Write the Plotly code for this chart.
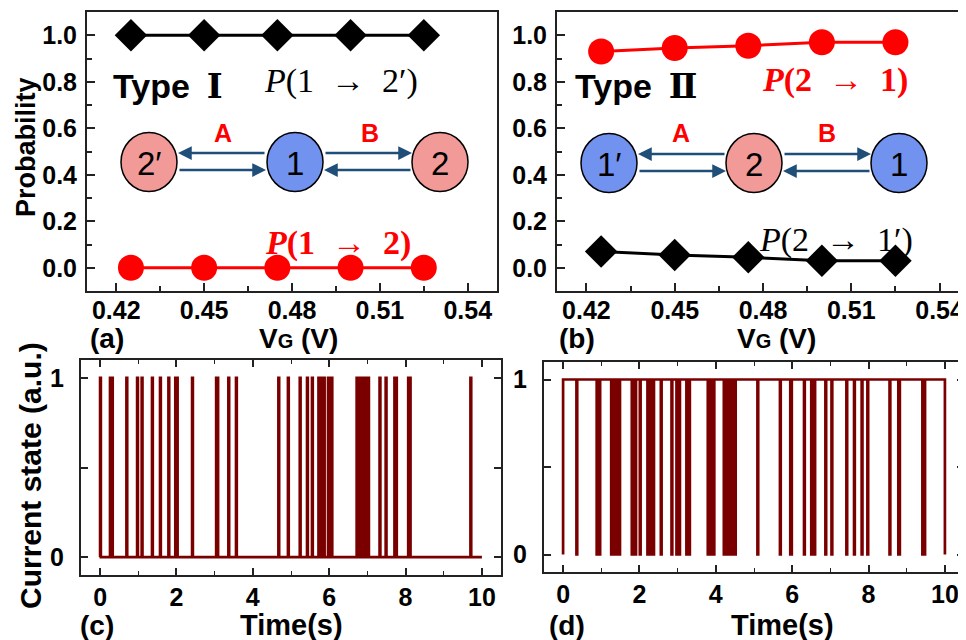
import plotly.graph_objects as go

# ---------------- data ----------------
vg = [0.425, 0.45, 0.475, 0.5, 0.525]
p_1_to_2prime = [1.0, 1.0, 1.0, 1.0, 1.0]
p_1_to_2 = [0.0, 0.0, 0.0, 0.0, 0.0]
p_2_to_1 = [0.93, 0.945, 0.955, 0.97, 0.97]
p_2_to_1prime = [0.07, 0.055, 0.045, 0.03, 0.03]

# panel (c): pulses up to state 1 (start, end) in seconds
c_on = [0.00, 0.26, 0.31, 0.69, 0.97, 1.09, 1.36, 1.57, 1.79, 1.97, 2.01, 2.41, 3.04, 3.07,
        3.36, 3.56, 4.67, 4.92, 5.23, 5.42, 5.55, 5.72, 5.79, 5.84, 5.97, 6.04,
        6.72, 6.77, 6.82, 6.87, 6.92, 6.97, 7.01, 7.32, 7.48, 7.71, 7.75, 8.07, 8.11, 9.70]
c_off = [0.02, 0.28, 0.33, 0.71, 0.99, 1.11, 1.38, 1.59, 1.81, 1.99, 2.03, 2.43, 3.06, 3.09,
         3.38, 3.58, 4.69, 4.94, 5.25, 5.44, 5.57, 5.76, 5.82, 5.88, 6.00, 6.08,
         6.75, 6.80, 6.85, 6.90, 6.95, 7.00, 7.04, 7.34, 7.50, 7.73, 7.77, 8.09, 8.13, 9.72]

# panel (d): dips down to state 0 (start, end) in seconds
d_down = [0.35, 0.88, 0.94, 1.26, 1.31, 1.36, 1.41, 1.46, 1.80, 1.87, 2.01, 2.21, 2.28, 2.36,
          2.56, 2.84, 2.97, 3.03, 3.23, 3.29, 3.79, 3.86, 3.92, 4.21, 4.30, 4.36, 4.45, 4.50,
          5.09, 5.68, 5.95, 6.31, 6.50, 6.57, 6.87, 7.03, 7.42, 7.62, 7.82, 7.97, 8.55, 8.78,
          9.41, 9.45]
d_up = [0.37, 0.91, 0.97, 1.29, 1.34, 1.39, 1.44, 1.49, 1.83, 1.91, 2.03, 2.23, 2.30, 2.38,
        2.58, 2.86, 3.00, 3.06, 3.26, 3.32, 3.83, 3.89, 3.96, 4.25, 4.34, 4.39, 4.48, 4.52,
        5.11, 5.70, 5.99, 6.33, 6.53, 6.60, 6.89, 7.05, 7.44, 7.64, 7.84, 7.99, 8.57, 8.82,
        9.44, 9.48]
t_end = 10.0

vg_ticks = [0.42, 0.45, 0.48, 0.51, 0.54]
vg_ticktext = ["0.42", "0.45", "0.48", "0.51", "0.54"]
prob_ticks = [0.0, 0.2, 0.4, 0.6, 0.8, 1.0]
prob_ticktext = ["0.0", "0.2", "0.4", "0.6", "0.8", "1.0"]
time_ticks = [0, 2, 4, 6, 8, 10]
state_ticks = [0, 0.5, 1]
state_ticktext = ["0", "", "1"]

# ---------------- build step series ----------------
c_t, c_s = [0.0], [0]
for a, b in zip(c_on, c_off):
    c_t += [a, b]
    c_s += [1, 0]
c_t.append(t_end)
c_s.append(0)

d_t, d_s = [0.0, 0.0], [0, 1]
for a, b in zip(d_down, d_up):
    d_t += [a, b]
    d_s += [0, 1]
d_t += [t_end]
d_s += [0]

W, H = 966, 640
OFF = 8  # page body margin in the browser
SANS = "Liberation Sans, Arial, Noto Sans CJK SC, sans-serif"
SERIF = "Liberation Serif, Times New Roman, DejaVu Serif, serif"
PINK = "#F29A98"
BLUE = "#7292EF"
ARROW = "#1F4E79"
TRACE = "#7A0000"
FRAME = "#222222"


def px(x):
    return (x - OFF) / W


def py(y):
    return 1 - (y - OFF) / H


fig = go.Figure()

fig.add_trace(go.Scatter(x=vg, y=p_1_to_2prime, mode="lines+markers", xaxis="x", yaxis="y",
                         line=dict(color="black", width=3),
                         marker=dict(symbol="diamond", size=25, color="black")))
fig.add_trace(go.Scatter(x=vg, y=p_1_to_2, mode="lines+markers", xaxis="x", yaxis="y",
                         line=dict(color="#FF0000", width=3),
                         marker=dict(symbol="circle", size=26, color="#FF0000")))
fig.add_trace(go.Scatter(x=vg, y=p_2_to_1, mode="lines+markers", xaxis="x2", yaxis="y2",
                         line=dict(color="#FF0000", width=3),
                         marker=dict(symbol="circle", size=26, color="#FF0000")))
fig.add_trace(go.Scatter(x=vg, y=p_2_to_1prime, mode="lines+markers", xaxis="x2", yaxis="y2",
                         line=dict(color="black", width=3),
                         marker=dict(symbol="diamond", size=25, color="black")))
fig.add_trace(go.Scatter(x=c_t, y=c_s, mode="lines", xaxis="x3", yaxis="y3",
                         line=dict(color=TRACE, width=2.7, shape="hv")))
fig.add_trace(go.Scatter(x=d_t, y=d_s, mode="lines", xaxis="x4", yaxis="y4",
                         line=dict(color=TRACE, width=2.7, shape="hv")))

tickfont = dict(family=SANS, size=25, color="black", weight="bold")


def vg_axis(dom, anchor):
    return dict(domain=dom, anchor=anchor, range=[0.41, 0.55], tickvals=vg_ticks,
                ticktext=vg_ticktext, ticks="inside", ticklen=8, tickwidth=2, tickcolor=FRAME,
                minor=dict(ticks="inside", ticklen=5, tickwidth=1.5, tickcolor=FRAME, dtick=0.015,
                           tick0=0.42),
                showline=True, linewidth=2, linecolor=FRAME, mirror=True, showgrid=False,
                zeroline=False, tickfont=tickfont, ticklabelstandoff=-4)


def prob_axis(dom, anchor):
    return dict(domain=dom, anchor=anchor, range=[-0.1, 1.1], tickvals=prob_ticks,
                ticktext=prob_ticktext, ticks="inside", ticklen=8, tickwidth=2, tickcolor=FRAME,
                minor=dict(ticks="inside", ticklen=5, tickwidth=1.5, tickcolor=FRAME, dtick=0.1,
                           tick0=0.0),
                showline=True, linewidth=2, linecolor=FRAME, mirror=True, showgrid=False,
                zeroline=False, tickfont=tickfont, ticklabelstandoff=3)


def time_axis(dom, anchor):
    return dict(domain=dom, anchor=anchor, range=[-0.5, 10.5], tickvals=time_ticks,
                ticks="inside", ticklen=7, tickwidth=1.5, tickcolor=FRAME,
                minor=dict(ticks="inside", ticklen=4, tickwidth=1, tickcolor=FRAME, dtick=1,
                           tick0=0),
                showline=True, linewidth=2, linecolor=FRAME, mirror="allticks", showgrid=False,
                zeroline=False, tickfont=tickfont, ticklabelstandoff=-1)


def state_axis(dom, anchor):
    return dict(domain=dom, anchor=anchor, range=[-0.1, 1.1], tickvals=state_ticks,
                ticktext=state_ticktext, ticks="inside", ticklen=7, tickwidth=1.5, tickcolor=FRAME,
                showline=True, linewidth=2, linecolor=FRAME, mirror="allticks", showgrid=False,
                zeroline=False, tickfont=tickfont, ticklabelstandoff=10)


fig.update_layout(
    width=W, height=H, margin=dict(l=0, r=0, t=0, b=0, pad=0),
    paper_bgcolor="white", plot_bgcolor="white", showlegend=False,
    xaxis=vg_axis([px(87), px(497)], "y"),
    yaxis=prob_axis([py(291), py(12)], "x"),
    xaxis2=vg_axis([px(557), px(969)], "y2"),
    yaxis2=prob_axis([py(291), py(12)], "x2"),
    xaxis3=time_axis([px(81), px(501)], "y3"),
    yaxis3=state_axis([py(575), py(360)], "x3"),
    xaxis4=time_axis([px(544), px(964)], "y4"),
    yaxis4=state_axis([py(572), py(362)], "x4"),
)

annotations = []


def text(t, x, y, size, color="black", family=SANS, weight="bold", angle=0, xanchor="center"):
    annotations.append(dict(text=t, x=px(x), y=py(y), xref="paper", yref="paper",
                            xanchor=xanchor, yanchor="middle", showarrow=False, textangle=angle,
                            borderpad=0,
                            font=dict(family=family, size=size, color=color, weight=weight)))


def arrow(x_head, y_head, x_tail):
    annotations.append(dict(text="", x=px(x_head), y=py(y_head), xref="paper", yref="paper",
                            ax=x_tail - x_head, ay=0, axref="pixel", ayref="pixel",
                            showarrow=True, arrowhead=2, arrowsize=1.1, arrowwidth=2.5,
                            arrowcolor=ARROW, standoff=0, startstandoff=0))


# axis titles and panel labels
text("Probability", 26, 147, 27, angle=-90)
text("Current state (a.u.)", 30, 476, 30, angle=-90)
vg_title = "V<span style='font-size:20px'>G</span> (V)"
text(vg_title, 298, 338, 28)
text(vg_title, 776, 338, 28)
text("(a)", 107, 338, 28)
text("(b)", 577, 338, 28)
text("Time(s)", 291, 625, 29)
text("Time(s)", 782, 625, 29)
text("(c)", 97, 625, 28)
text("(d)", 567, 625, 28)

# type labels
ROMAN = "<span style='font-family:DejaVu Serif;font-weight:bold'>"
text("Type\u2002" + ROMAN + "\u2160</span>", 168, 86, 34)
text("Type\u2002" + ROMAN + "\u2161</span>", 636, 86, 34)

# probability labels
ARR = "\u2002\u2192\u2002"
text("<i>P</i>(1" + ARR + "2\u2032)", 341, 81, 34, family=SERIF, weight="normal")
text("<i>P</i>(1" + ARR + "2)", 338, 243, 34, color="#FF0000", family=SERIF, weight="bold")
text("<i>P</i>(2" + ARR + "1)", 835, 80, 34, color="#FF0000", family=SERIF, weight="bold")
text("<i>P</i>(2" + ARR + "1\u2032)", 836, 240, 34, family=SERIF, weight="normal")

# state diagrams
shapes = []
RX, RY = 28, 29.5


def node(cx, cy, fill, label):
    shapes.append(dict(type="circle", xref="paper", yref="paper",
                       x0=px(cx - RX), x1=px(cx + RX), y0=py(cy + RY), y1=py(cy - RY),
                       fillcolor=fill, line=dict(color="black", width=1.5), layer="above"))
    text(label, cx, cy + 1, 33, weight="normal")


node(149, 162, PINK, "2\u2032")
node(295, 162, BLUE, "1")
node(440, 162, PINK, "2")
node(609, 163, BLUE, "1\u2032")
node(754, 163, PINK, "2")
node(899, 163, BLUE, "1")

arrow(178, 153, 266)
arrow(266, 170, 178)
arrow(412, 153, 324)
arrow(324, 170, 412)
arrow(638, 154, 726)
arrow(726, 171, 638)
arrow(871, 154, 783)
arrow(783, 171, 871)

text("A", 223, 133, 25, color="#FF0000")
text("B", 370, 133, 25, color="#FF0000")
text("A", 681, 133, 25, color="#FF0000")
text("B", 827, 133, 25, color="#FF0000")

fig.update_layout(annotations=annotations, shapes=shapes)

fig.write_html("out.html")
